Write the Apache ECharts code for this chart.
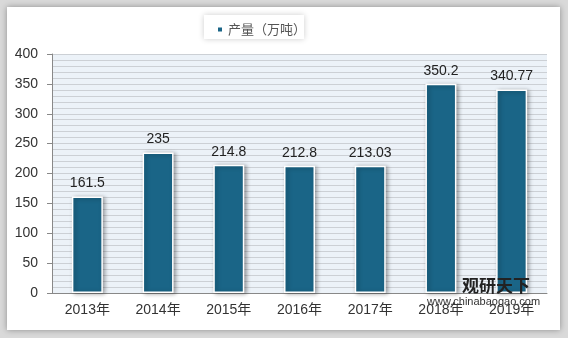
<!DOCTYPE html>
<html><head><meta charset="utf-8">
<script src="https://cdn.jsdelivr.net/npm/echarts@6/dist/echarts.min.js"></script>
<style>html,body{margin:0;padding:0;background:#d9d9d9;}#c{width:568px;height:338px;}</style>
</head><body><div id="c"></div>
<script>
const categories = ['2013年','2014年','2015年','2016年','2017年','2018年','2019年'];
const values = [161.5, 235, 214.8, 212.8, 213.03, 350.2, 340.77];
const seriesName = '产量（万吨）';
const yTicks = [0, 50, 100, 150, 200, 250, 300, 350, 400];

const chart = echarts.init(document.getElementById('c'));
chart.setOption({
  animation: false,
  graphic: [
    {type:'rect', left:7, top:7, shape:{width:553, height:323}, style:{fill:'#fff', shadowBlur:6, shadowColor:'rgba(0,0,0,0.35)'}, z:-10},
    {type:'rect', left:204, top:15, shape:{width:100, height:24}, style:{fill:'#fff', shadowBlur:6, shadowColor:'rgba(0,0,0,0.2)'}, z:-5},
    {type:'text', left:462, top:277, style:{text:'观研天下', font:'bold 17px "Noto Sans CJK SC"', fill:'#222'}, z:10},
    {type:'text', left:427, top:296, style:{text:'www.chinabaogao.com', font:'11px "Liberation Sans"', fill:'#333'}, z:10}
  ],
  legend: {
    top: 18, left: 211, itemWidth: 6, itemHeight: 6, icon: 'rect', itemGap: 5,
    textStyle: {fontSize: 13, color: '#555', fontFamily: '"Noto Sans CJK SC"'},
    data: [seriesName]
  },
  grid: {left: 52, right: 21, top: 54, bottom: 45, backgroundColor: '#ecf2f8', show: true, borderWidth: 0},
  xAxis: {
    type: 'category', data: categories,
    axisLine: {lineStyle: {color: '#888'}},
    axisTick: {show: false},
    axisLabel: {fontSize: 14, color: '#333', fontFamily: '"Liberation Sans","Noto Sans CJK SC"', margin: 10}
  },
  yAxis: {
    type: 'value', min: 0, max: 400, interval: 50,
    axisLine: {show: true, lineStyle: {color: '#888'}},
    axisTick: {show: true, length: 5, lineStyle: {color: '#888'}},
    axisLabel: {fontSize: 14, color: '#333', fontFamily: '"Liberation Sans"', margin: 14,
      formatter: v => yTicks.includes(v) ? String(v) : ''},
    splitLine: {show: true, lineStyle: {color: '#ccd0d5', width: 1}},
    minorTick: {show: false, splitNumber: 5},
    minorSplitLine: {show: true, lineStyle: {color: '#ccd0d5', width: 1}}
  },
  series: [{
    name: seriesName, type: 'bar', data: values, barWidth: 31,
    itemStyle: {color: '#1a6587', borderColor: '#fff', borderWidth: 1.5,
      shadowBlur: 4, shadowColor: 'rgba(0,0,0,0.35)', shadowOffsetX: 2, shadowOffsetY: 1},
    label: {show: true, position: 'top', fontSize: 14, color: '#222', fontFamily: '"Liberation Sans"', distance: 6}
  }]
});
</script></body></html>
